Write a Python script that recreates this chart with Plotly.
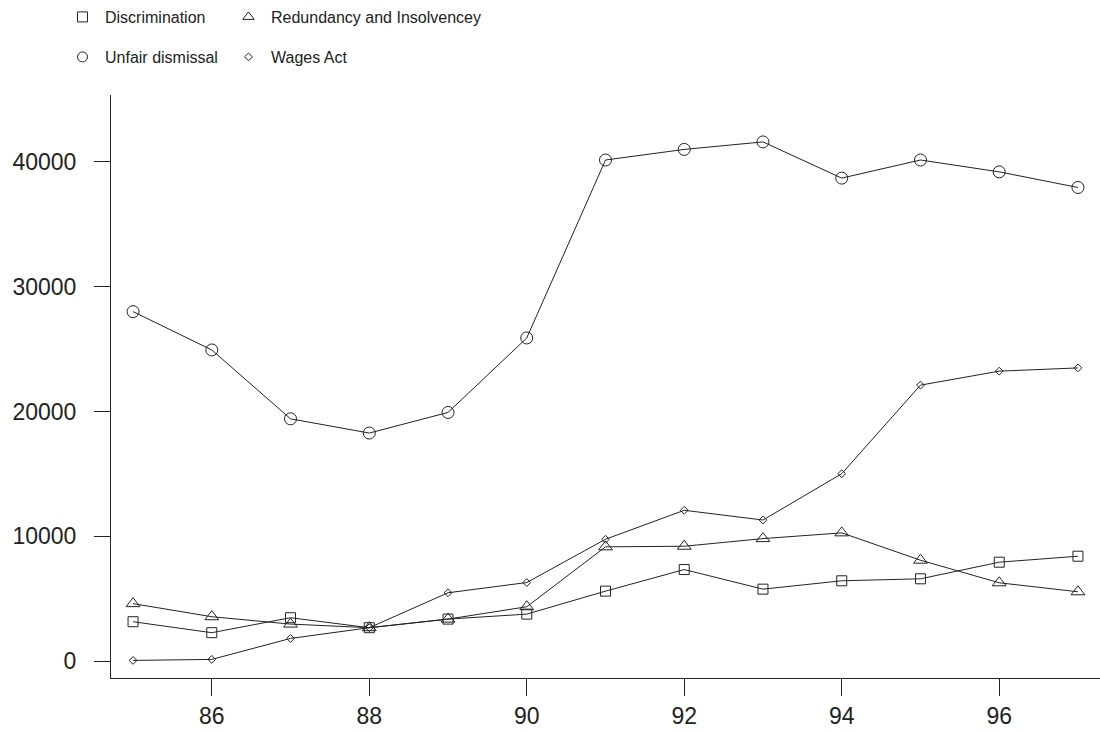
import plotly.graph_objects as go

# Tribunal applications by jurisdiction, 1985-1997
years = [85, 86, 87, 88, 89, 90, 91, 92, 93, 94, 95, 96, 97]
discrimination = [3150, 2270, 3470, 2670, 3360, 3760, 5600, 7330, 5760, 6430, 6590, 7920, 8400]
redundancy = [4600, 3550, 2960, 2670, 3360, 4350, 9150, 9200, 9810, 10270, 8080, 6270, 5550]
unfair_dismissal = [28000, 24930, 19410, 18270, 19920, 25890, 40150, 41000, 41600, 38700, 40150, 39200, 37950]
wages_act = [50, 130, 1810, 2670, 5470, 6290, 9760, 12080, 11300, 15010, 22110, 23230, 23490]

x_ticks = [86, 88, 90, 92, 94, 96]
y_ticks = [0, 10000, 20000, 30000, 40000]

INK = "#222222"
FONT = "Liberation Sans, Arial, sans-serif"

series = [
    ("Discrimination", discrimination, "square-open", 10, "legend"),
    ("Redundancy and Insolvencey", redundancy, "triangle-up-open", 12, "legend2"),
    ("Unfair dismissal", unfair_dismissal, "circle-open", 12, "legend3"),
    ("Wages Act", wages_act, "diamond-open", 6, "legend4"),
]

fig = go.Figure()
for name, values, symbol, size, legend in series:
    marker = dict(symbol=symbol, size=size, color=INK, line=dict(width=1, color=INK))
    # data line with markers
    fig.add_trace(go.Scatter(
        x=years, y=values, name=name, mode="lines+markers",
        line=dict(color=INK, width=1), marker=marker,
        showlegend=False, legendgroup=name,
    ))
    # key entry showing the symbol only
    fig.add_trace(go.Scatter(
        x=[None], y=[None], name=name, mode="markers",
        marker=dict(marker, size=min(size, 10) if size > 6 else size),
        legend=legend, legendgroup=name, showlegend=True,
    ))

W, H = 1100, 731
L, R, T, B = 111, 0, 94, 53
plot_w, plot_h = W - L - R, H - T - B


def px_x(px):
    return (px - L) / plot_w


def px_y(py):
    return (H - B - py) / plot_h


legend_style = dict(font=dict(family=FONT, size=16, color=INK), bgcolor="rgba(0,0,0,0)",
                    xanchor="left", yanchor="middle", orientation="h", itemwidth=35)

fig.update_layout(
    width=W, height=H,
    margin=dict(l=L, r=R, t=T, b=B),
    paper_bgcolor="white", plot_bgcolor="white",
    font=dict(family=FONT, color=INK),
    showlegend=True,
    legend=dict(x=px_x(60), y=px_y(16), **legend_style),
    legend2=dict(x=px_x(226), y=px_y(16), **legend_style),
    legend3=dict(x=px_x(60), y=px_y(57), **legend_style),
    legend4=dict(x=px_x(226), y=px_y(57), **legend_style),
    xaxis=dict(
        range=[84.72, 97.28], tickvals=x_ticks, ticktext=[str(v) for v in x_ticks],
        showgrid=False, zeroline=False, showline=True, linecolor=INK, linewidth=1,
        ticks="outside", ticklen=17, tickwidth=1, tickcolor=INK,
        tickfont=dict(family=FONT, size=23, color=INK),
    ),
    yaxis=dict(
        range=[-1360, 45360], tickvals=y_ticks, tickformat="d",
        showgrid=False, zeroline=False, showline=True, linecolor=INK, linewidth=1,
        ticks="outside", ticklen=16, tickwidth=1, tickcolor=INK, ticklabelstandoff=13,
        tickfont=dict(family=FONT, size=23, color=INK),
    ),
)

fig.write_html("out.html")
